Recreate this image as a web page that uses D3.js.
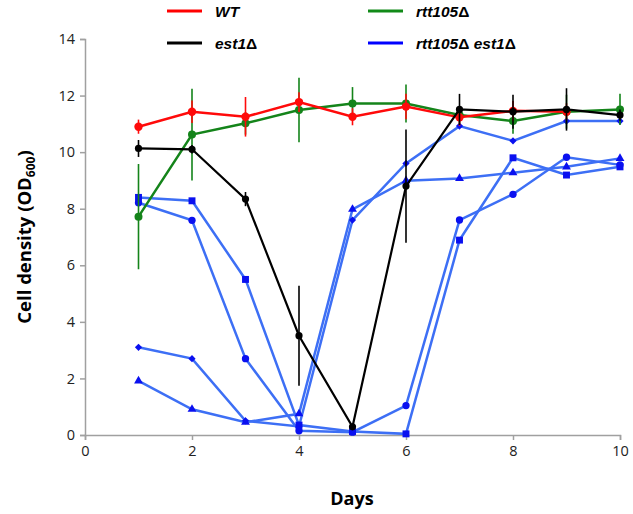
<!DOCTYPE html>
<html><head><meta charset="utf-8">
<script src="https://cdn.jsdelivr.net/npm/d3@7"></script>
<style>body{margin:0;background:#fff}svg{display:block}</style>
</head><body><svg id="c" width="633" height="514"></svg>
<script>
const days = [1,2,3,4,5,6,7,8,9,10];
const xTicks = [0,2,4,6,8,10];
const yTicks = [0,2,4,6,8,10,12,14];
const wtDays = [1,2,3,4,5,6,7,8,9];
const wt = [10.9, 11.43, 11.25, 11.77, 11.25, 11.61, 11.23, 11.46, 11.43];
const wtErr = [0.25, 0.4, 0.7, 0.35, 0.3, 0.45, 0.3, 0.35, 0.3];
const rtt = [7.72, 10.62, 11.02, 11.49, 11.72, 11.72, 11.31, 11.10, 11.43, 11.51];
const rttErr = [1.86, 1.62, 0.4, 1.14, 0.58, 0.67, 0.3, 0.45, 0.6, 0.55];
const est1 = [10.13, 10.1, 8.34, 3.51, 0.29, 8.8, 11.51, 11.43, 11.51, 11.31];
const est1Err = [0.3, 0.15, 0.25, 1.77, 0.1, 2.0, 0.55, 0.6, 0.75, 0.2];
const dblA = [8.4, 8.28, 5.5, 0.35, 0.12, 0.04, 6.89, 9.8, 9.19, 9.48];
const dblB = [8.21, 7.59, 2.7, 0.15, 0.1, 1.04, 7.6, 8.51, 9.82, 9.55];
const dblC = [3.1, 2.7, 0.5, 0.3, 7.6, 9.6, 10.92, 10.4, 11.1, 11.1];
const dblD = [1.91, 0.91, 0.45, 0.75, 7.98, 8.99, 9.07, 9.27, 9.48, 9.78];

const svg = d3.select("#c");
const x = d3.scaleLinear().domain([0,10]).range([85,620]);
const y = d3.scaleLinear().domain([0,14]).range([435,39]);
const font = "'Open Sans', 'Liberation Sans', sans-serif";

// axes
const xa = svg.append("g").attr("transform",`translate(0,${y(0)})`)
  .call(d3.axisBottom(x).tickValues(xTicks).tickSize(5).tickPadding(6));
const ya = svg.append("g").attr("transform",`translate(${x(0)},0)`)
  .call(d3.axisLeft(y).tickValues(yTicks).tickSize(5).tickPadding(5));
[xa,ya].forEach(g=>{
  g.selectAll("path,line").attr("stroke","#a0a0a0").attr("stroke-width",1.5);
  g.selectAll("text").attr("font-family",font).attr("font-size",14.5).attr("fill","#222");
});

const line = d3.line().x(d=>x(d[0])).y(d=>y(d[1]));

// blue double mutants
const blueLine = "#3d6ff5", blueMark = "#0a10f0";
const dbl = [[dblA, d3.symbolSquare, 48, 0],[dblB, d3.symbolCircle, 42, 0],[dblC, d3.symbolSquare, 26, 45],[dblD, d3.symbolTriangle, 34, 0]];
dbl.forEach(([vals])=>{
  svg.append("path").datum(days.map((d,i)=>[d,vals[i]])).attr("d",line)
    .attr("fill","none").attr("stroke",blueLine).attr("stroke-width",2.5);
});
dbl.forEach(([vals,sym,size,rot])=>{
  svg.append("g").selectAll("path").data(days.map((d,i)=>[d,vals[i]])).join("path")
    .attr("d",d3.symbol().type(sym).size(size))
    .attr("transform",d=>`translate(${x(d[0])},${y(d[1])}) rotate(${rot})`)
    .attr("fill",blueMark);
});

function series(dx, vals, errs, color, r, lw){
  const g = svg.append("g");
  g.selectAll("line").data(dx.map((d,i)=>[d,vals[i],errs[i]])).join("line")
    .attr("x1",d=>x(d[0])).attr("x2",d=>x(d[0]))
    .attr("y1",d=>y(d[1]+d[2])).attr("y2",d=>y(d[1]-d[2]))
    .attr("stroke",color).attr("stroke-width",1.6);
  g.append("path").datum(dx.map((d,i)=>[d,vals[i]])).attr("d",line)
    .attr("fill","none").attr("stroke",color).attr("stroke-width",lw);
  g.selectAll("circle").data(dx.map((d,i)=>[d,vals[i]])).join("circle")
    .attr("cx",d=>x(d[0])).attr("cy",d=>y(d[1])).attr("r",r).attr("fill",color);
}
series(days, rtt, rttErr, "#14841a", 4, 2.5);
series(wtDays, wt, wtErr, "#ff0a0a", 4.2, 2.5);
series(days, est1, est1Err, "#000000", 3.6, 2.2);

// legend
const leg = [
  {x:167, y:11, c:"#ff0000", parts:[["WT",true]]},
  {x:368, y:11, c:"#118a18", parts:[["rtt105",true],["Δ",false]]},
  {x:167, y:43, c:"#000000", parts:[["est1",true],["Δ",false]]},
  {x:368, y:43, c:"#0000ff", parts:[["rtt105",true],["Δ ",false],["est1",true],["Δ",false]]}
];
leg.forEach(l=>{
  svg.append("line").attr("x1",l.x).attr("x2",l.x+35).attr("y1",l.y).attr("y2",l.y)
    .attr("stroke",l.c).attr("stroke-width",3);
  const t = svg.append("text").attr("x",l.x+48).attr("y",l.y+5.5)
    .attr("font-family","'Liberation Sans', Arial, sans-serif").attr("font-weight","bold").attr("font-size",15.5).attr("fill","#000");
  l.parts.forEach(p=>t.append("tspan").attr("font-style",p[1]?"italic":"normal").text(p[0]));
});

// axis titles
svg.append("text").attr("x",352).attr("y",505).attr("text-anchor","middle")
  .attr("font-family",font).attr("font-weight","bold").attr("font-size",18).text("Days");
const yt = svg.append("text").attr("transform","translate(31,237) rotate(-90)").attr("text-anchor","middle")
  .attr("font-family",font).attr("font-weight","bold").attr("font-size",18.5);
yt.append("tspan").text("Cell density (OD");
yt.append("tspan").attr("font-size",12).attr("dy",4).text("600");
yt.append("tspan").attr("dy",-4).text(")");
</script></body></html>
